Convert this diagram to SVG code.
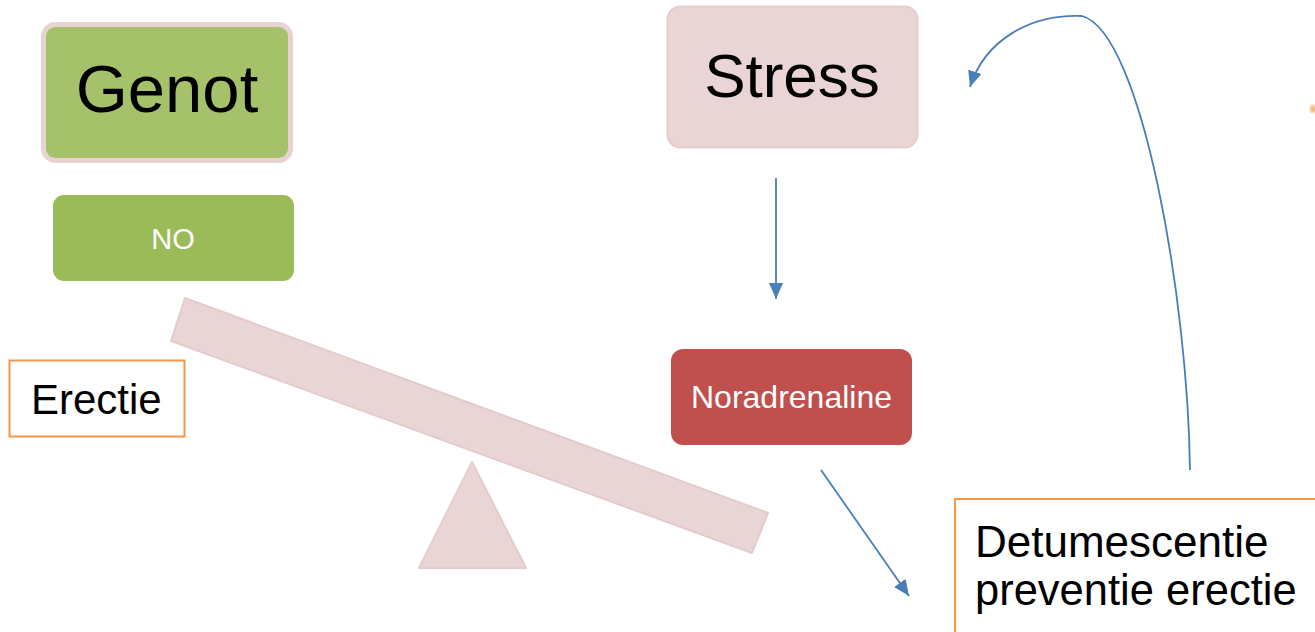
<svg xmlns="http://www.w3.org/2000/svg" width="1315" height="632" viewBox="0 0 1315 632">
<style>
  .t { font-family: "Liberation Sans", Arial, sans-serif; }
  .big { fill: #000; text-anchor: middle; }
  .white { fill: #fff; text-anchor: middle; }
  .box-orange { fill: #fff; stroke: #F79646; stroke-width: 2; }
  .pink { fill: #E9D5D6; stroke: #E4CBCC; stroke-width: 2; stroke-linejoin: round; }
  .conn { fill: none; stroke: #4A7EBB; stroke-width: 1.8; marker-end: url(#arr); }
</style>
<defs>
  <marker id="arr" markerUnits="userSpaceOnUse" markerWidth="17" markerHeight="15" refX="16" refY="7" orient="auto">
    <path d="M0,0 L16,7 L0,14 z" fill="#4A7EBB"/>
  </marker>
  <filter id="blur"><feGaussianBlur stdDeviation="1.5"/></filter>
</defs>
<rect width="1315" height="632" fill="#fff"/>

<g id="seesaw">
  <polygon class="pink" points="185,298 768,513 752,553 171,341"/>
  <polygon class="pink" points="472,462 526,568 419,568"/>
</g>

<g id="genot">
  <rect x="43.5" y="24.5" width="247" height="136" rx="12" fill="#A5C26B" stroke="#E8D3D3" stroke-width="5"/>
  <text class="t big" x="167" y="112" font-size="67">Genot</text>
</g>

<g id="no">
  <rect x="53" y="195" width="241" height="86" rx="11" fill="#9BBB59"/>
  <text class="t white" x="173" y="249" font-size="29">NO</text>
</g>

<g id="stress">
  <rect x="667.5" y="6.5" width="250" height="141" rx="13" fill="#EAD5D6" stroke="#E6CDCE" stroke-width="2"/>
  <text class="t big" x="792" y="97" font-size="62">Stress</text>
</g>

<g id="noradrenaline">
  <rect x="671" y="349" width="241" height="96" rx="12" fill="#C0504D"/>
  <text class="t white" x="791.5" y="408" font-size="32">Noradrenaline</text>
</g>

<g id="erectie">
  <rect class="box-orange" x="9.5" y="360.5" width="175" height="76"/>
  <text class="t" x="31" y="414" font-size="42" fill="#000">Erectie</text>
</g>

<g id="detumescentie">
  <rect class="box-orange" x="955" y="499" width="380" height="150"/>
  <text class="t" x="975" y="557" font-size="44" fill="#000">Detumescentie</text>
  <text class="t" x="975" y="605" font-size="43.5" fill="#000">preventie erectie</text>
</g>

<g id="smudge">
  <ellipse cx="1313" cy="109" rx="3" ry="4" fill="#EFA04A" opacity="0.8" filter="url(#blur)"/>
</g>

<g id="connectors">
  <path class="conn" d="M776,178 L776,299"/>
  <path class="conn" d="M821,470 L909,596"/>
  <path class="conn" d="M1190,470 C1188,300 1142,32 1082,16 C1030,14 985,40 970,87"/>
</g>
</svg>
